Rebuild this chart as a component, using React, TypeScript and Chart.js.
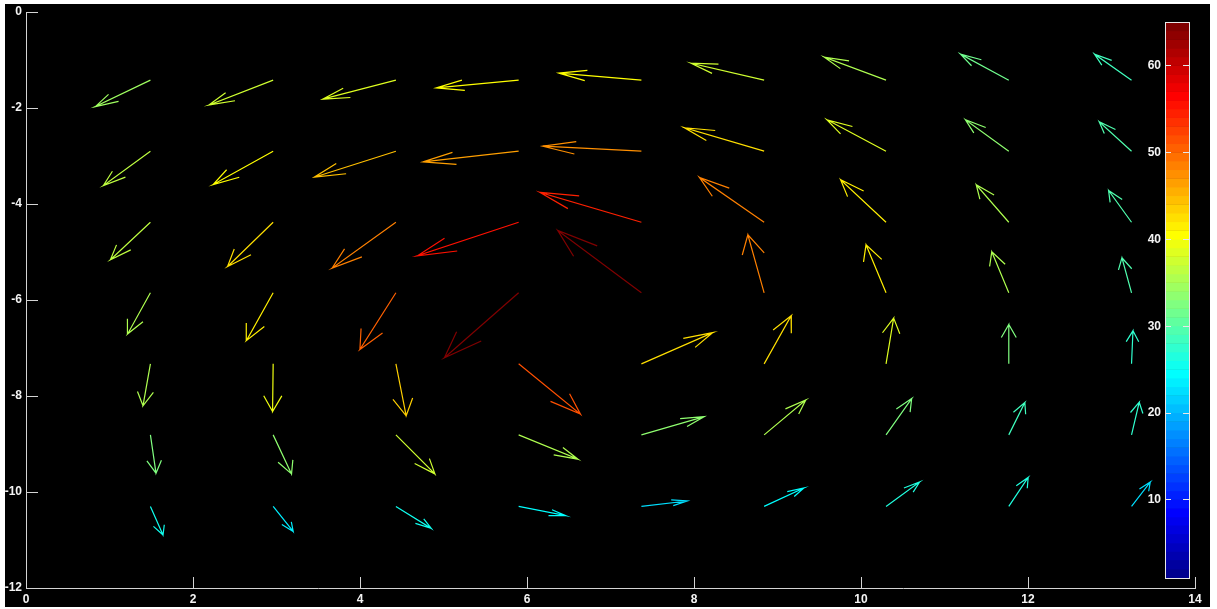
import { useEffect, useRef } from "react";
import { Chart, registerables } from "chart.js";

Chart.register(...registerables);

// Tail positions of the vector grid
const X_POS = [1.49, 2.96, 4.43, 5.9, 7.37, 8.84, 10.3, 11.77, 13.24];
const Y_POS = [-1.42, -2.9, -4.38, -5.85, -7.33, -8.81, -10.3];

// Horizontal components, one row per Y_POS entry
const U = [
  [-0.659, -0.766, -0.878, -0.988, -0.989, -0.874, -0.739, -0.578, -0.443],
  [-0.563, -0.719, -0.978, -1.147, -1.181, -0.954, -0.707, -0.519, -0.387],
  [-0.479, -0.546, -0.763, -1.212, -1.213, -0.775, -0.544, -0.39, -0.275],
  [-0.272, -0.319, -0.431, -0.889, -1.001, -0.195, -0.24, -0.204, -0.115],
  [-0.089, -0.007, 0.123, 0.74, 0.855, 0.323, 0.091, 0.0, 0.017],
  [0.067, 0.22, 0.467, 0.709, 0.754, 0.499, 0.307, 0.192, 0.092],
  [0.151, 0.24, 0.423, 0.565, 0.551, 0.475, 0.402, 0.232, 0.224],
];

// Vertical components, one row per Y_POS entry
const V = [
  [-0.55, -0.515, -0.396, -0.16, 0.146, 0.354, 0.479, 0.542, 0.542],
  [-0.715, -0.694, -0.542, -0.221, 0.104, 0.488, 0.654, 0.654, 0.613],
  [-0.781, -0.921, -0.954, -0.698, 0.621, 0.933, 0.885, 0.781, 0.663],
  [-0.854, -0.994, -1.181, -1.354, 1.298, 1.208, 1.0, 0.854, 0.729],
  [-0.875, -0.994, -1.083, -1.048, 0.652, 1.0, 0.952, 0.819, 0.688],
  [-0.798, -0.813, -0.813, -0.506, 0.381, 0.729, 0.756, 0.673, 0.681],
  [-0.596, -0.521, -0.458, -0.194, 0.113, 0.383, 0.508, 0.604, 0.508],
];

const X_TICKS = [0, 2, 4, 6, 8, 10, 12, 14];
const Y_TICKS = [-12, -10, -8, -6, -4, -2, 0];
const COLORBAR_TICKS = [10, 20, 30, 40, 50, 60];
const COLORBAR_RANGE = [1, 65];

// Arrow head proportions (relative to vector length)
const HEAD_ALPHA = 0.33;
const HEAD_BETA = 0.33;

const FONT = { family: "'Liberation Sans', Arial, sans-serif", size: 12, weight: "bold" as const };
const AXIS_COLOR = "#d4d4d4";
const LABEL_COLOR = "#f4f4f4";

// 64-entry jet colour map
function jetMap(m: number): number[][] {
  const n = Math.ceil(m / 4);
  const u: number[] = [];
  for (let i = 1; i <= n; i++) u.push(i / n);
  for (let i = 1; i < n; i++) u.push(1);
  for (let i = n; i >= 1; i--) u.push(i / n);
  const g0 = Math.ceil(n / 2) - (m % 4 === 1 ? 1 : 0);
  const J = Array.from({ length: m }, () => [0, 0, 0]);
  for (let k = 0; k < u.length; k++) {
    const gi = g0 + k + 1;
    const ri = gi + n;
    const bi = gi - n;
    if (ri >= 1 && ri <= m) J[ri - 1][0] = u[k];
    if (gi >= 1 && gi <= m) J[gi - 1][1] = u[k];
    if (bi >= 1 && bi <= m) J[bi - 1][2] = u[k];
  }
  return J;
}

const JET = jetMap(64);
const rgb = (c: number[]) =>
  `rgb(${Math.round(c[0] * 255)},${Math.round(c[1] * 255)},${Math.round(c[2] * 255)})`;

function buildDatasets() {
  let maxMag = 0;
  U.forEach((row, r) =>
    row.forEach((u, c) => {
      maxMag = Math.max(maxMag, Math.hypot(u, V[r][c]));
    })
  );
  const sets: any[] = [];
  Y_POS.forEach((y, r) => {
    X_POS.forEach((x, c) => {
      const u = U[r][c];
      const v = V[r][c];
      const hx = x + u;
      const hy = y + v;
      const barb1 = { x: hx - HEAD_ALPHA * (u + HEAD_BETA * v), y: hy - HEAD_ALPHA * (v - HEAD_BETA * u) };
      const barb2 = { x: hx - HEAD_ALPHA * (u - HEAD_BETA * v), y: hy - HEAD_ALPHA * (v + HEAD_BETA * u) };
      const mag = Math.hypot(u, v);
      const idx = Math.min(64, Math.max(1, Math.ceil((mag / maxMag) * 64)));
      sets.push({
        data: [{ x, y }, { x: hx, y: hy }, barb1, { x: hx, y: hy }, barb2],
        borderColor: rgb(JET[idx - 1]),
        borderWidth: 1.2,
        pointRadius: 0,
        showLine: true,
        fill: false,
        tension: 0,
      });
    });
  });
  return sets;
}

const backdrop = {
  id: "backdrop",
  beforeDraw(chart: any) {
    const { ctx, width, height } = chart;
    ctx.save();
    ctx.fillStyle = "#ffffff";
    ctx.fillRect(0, 0, width, height);
    ctx.fillStyle = "#000000";
    ctx.fillRect(5, 4, width - 12, height - 6);
    ctx.restore();
  },
};

// Inward tick marks on both axes
const innerTicks = {
  id: "innerTicks",
  afterDraw(chart: any) {
    const { ctx, chartArea, scales } = chart;
    ctx.save();
    ctx.strokeStyle = AXIS_COLOR;
    ctx.lineWidth = 1;
    ctx.beginPath();
    X_TICKS.forEach((t) => {
      const px = Math.round(scales.x.getPixelForValue(t)) + 0.5;
      ctx.moveTo(px, chartArea.bottom);
      ctx.lineTo(px, chartArea.bottom - 11);
    });
    Y_TICKS.forEach((t) => {
      const py = Math.round(scales.y.getPixelForValue(t)) + 0.5;
      ctx.moveTo(chartArea.left, py);
      ctx.lineTo(chartArea.left + 12, py);
    });
    ctx.stroke();
    ctx.restore();
  },
};

const colorBar = {
  id: "colorBar",
  afterDraw(chart: any) {
    const { ctx, chartArea } = chart;
    const left = chartArea.right - 30;
    const w = 24;
    const top = chartArea.top + 10;
    const bottom = chartArea.bottom - 10.5;
    const [lo, hi] = COLORBAR_RANGE;
    const py = (v: number) => top + ((hi - v) / (hi - lo)) * (bottom - top);
    ctx.save();
    JET.forEach((c, i) => {
      const y0 = py(lo + i + 1);
      const y1 = py(lo + i);
      ctx.fillStyle = rgb(c);
      ctx.fillRect(left, y0, w, y1 - y0 + 0.5);
    });
    ctx.strokeStyle = "#e8e8e8";
    ctx.lineWidth = 1;
    ctx.strokeRect(Math.round(left) + 0.5, Math.round(top) + 0.5, w, Math.round(bottom - top));
    ctx.beginPath();
    COLORBAR_TICKS.forEach((t) => {
      const y = Math.round(py(t)) + 0.5;
      ctx.moveTo(left, y);
      ctx.lineTo(left + 6, y);
      ctx.moveTo(left + w - 6, y);
      ctx.lineTo(left + w, y);
    });
    ctx.stroke();
    ctx.fillStyle = LABEL_COLOR;
    ctx.font = `${FONT.weight} ${FONT.size}px ${FONT.family}`;
    ctx.textAlign = "right";
    ctx.textBaseline = "middle";
    COLORBAR_TICKS.forEach((t) => {
      ctx.fillText(String(t), left - 4, py(t) + 0.5);
    });
    ctx.restore();
  },
};

export default function App() {
  const canvasRef = useRef<HTMLCanvasElement | null>(null);

  useEffect(() => {
    const canvas = canvasRef.current;
    if (!canvas) return;
    const chart = new Chart(canvas, {
      type: "scatter",
      data: { datasets: buildDatasets() },
      options: {
        animation: false,
        responsive: false,
        events: [],
        layout: { padding: { top: 12, right: 22, bottom: 0, left: 0 } },
        plugins: {
          legend: { display: false },
          tooltip: { enabled: false },
        },
        scales: {
          x: {
            type: "linear",
            min: 0,
            max: 14,
            afterBuildTicks: (s: any) => {
              s.ticks = X_TICKS.map((value) => ({ value }));
            },
            afterFit: (s: any) => {
              s.height = 21;
            },
            ticks: { color: LABEL_COLOR, font: FONT, padding: 4, maxRotation: 0, autoSkip: false },
            grid: { drawOnChartArea: false, drawTicks: false },
            border: { display: true, color: AXIS_COLOR, width: 1 },
          },
          y: {
            type: "linear",
            min: -12,
            max: 0,
            afterBuildTicks: (s: any) => {
              s.ticks = Y_TICKS.map((value) => ({ value }));
            },
            afterFit: (s: any) => {
              s.width = 26;
            },
            ticks: { color: LABEL_COLOR, font: FONT, padding: 4, autoSkip: false },
            grid: { drawOnChartArea: false, drawTicks: false },
            border: { display: true, color: AXIS_COLOR, width: 1 },
          },
        },
      },
      plugins: [backdrop, innerTicks, colorBar],
    });
    return () => chart.destroy();
  }, []);

  return (
    <div style={{ position: "absolute", left: 0, top: 0, width: 1217, height: 609 }}>
      <canvas ref={canvasRef} width={1217} height={609} style={{ display: "block" }} />
    </div>
  );
}
